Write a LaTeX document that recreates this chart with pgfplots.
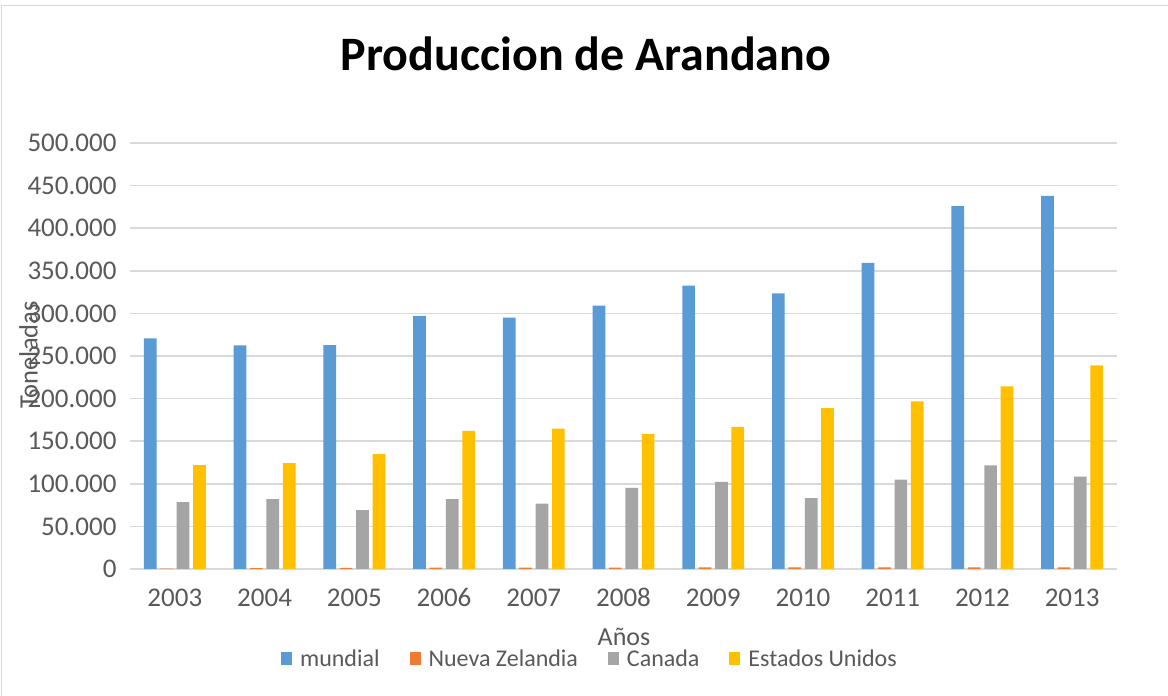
\documentclass[border=0pt]{standalone}
\usepackage{pgfplots}
\pgfplotsset{compat=1.18}
\usepackage{pgfplotstable}
\usepackage{fontspec}
\setmainfont{Carlito}
\definecolor{cMun}{HTML}{5B9BD5}
\definecolor{cNZ}{HTML}{ED7D31}
\definecolor{cCan}{HTML}{A5A5A5}
\definecolor{cUS}{HTML}{FFC000}
\definecolor{gridc}{HTML}{D9D9D9}
\definecolor{txt}{HTML}{595959}
\pgfplotstableread{
x mundial nz canada usa
0 270700 500 78400 121900
1 262500 1000 81900 124200
2 262900 1200 69000 134800
3 297000 1500 81900 162200
4 295000 1600 76800 164900
5 309100 1700 95200 158300
6 332600 2000 102300 166900
7 323600 2000 83100 188900
8 359300 2000 105000 196700
9 425900 1800 121500 214300
10 438000 2000 108500 239000
}\datatable
\begin{document}
\begin{tikzpicture}[x=1pt,y=1pt]
\path[use as bounding box,fill=white] (0,0) rectangle (1168,696);
\draw[gridc,line width=1.5pt] (1.5,0) -- (1.5,690.5) -- (1168,690.5);
\begin{axis}[
  at={(130pt,127pt)}, anchor=south west,
  scale only axis, width=987pt, height=426pt,
  ybar=3.7pt, bar width=12.7pt,
  xmin=-0.5, xmax=10.5, ymin=0, ymax=500000,
  enlargelimits=false, clip=false,
  xtick={0,...,10},
  xticklabels={2003,2004,2005,2006,2007,2008,2009,2010,2011,2012,2013},
  ytick={0,50000,...,500000},
  scaled y ticks=false,
  yticklabel style={xshift=-10pt, /pgf/number format/.cd, fixed, 1000 sep={.}, assume math mode=true},
  xticklabel style={yshift=-16pt},
  tick label style={font=\fontsize{27}{31}\selectfont, text=txt},
  major tick length=0pt,
  axis line style={draw=none},
  ymajorgrids, xmajorgrids=false, grid style={draw=gridc, line width=1.5pt},
  legend columns=4,
  legend style={at={(axis description cs:0.466,-0.211)}, anchor=center, draw=none, fill=none,
    font=\fontsize{24}{28}\selectfont, text=txt,
    /tikz/every even column/.append style={column sep=28pt},
    /tikz/every odd column/.append style={column sep=6pt}},
  legend image code/.code={\fill[#1] (0pt,-6.5pt) rectangle (11pt,6.5pt);},
]
\addplot[fill=cMun, draw=none] table[x=x,y=mundial]{\datatable};
\addplot[fill=cNZ, draw=none] table[x=x,y=nz]{\datatable};
\addplot[fill=cCan, draw=none] table[x=x,y=canada]{\datatable};
\addplot[fill=cUS, draw=none] table[x=x,y=usa]{\datatable};
\legend{mundial,Nueva Zelandia,Canada,Estados Unidos}
\end{axis}
\node[anchor=base, font=\fontsize{48}{56}\selectfont\bfseries] at (586,625) {Produccion de Arandano};
\node[anchor=base, font=\fontsize{26}{30}\selectfont, text=txt] at (624,50) {Años};
\node[anchor=base, rotate=90, font=\fontsize{26.5}{30}\selectfont, text=txt] at (37.5,341) {Toneladas};
\end{tikzpicture}
\end{document}
